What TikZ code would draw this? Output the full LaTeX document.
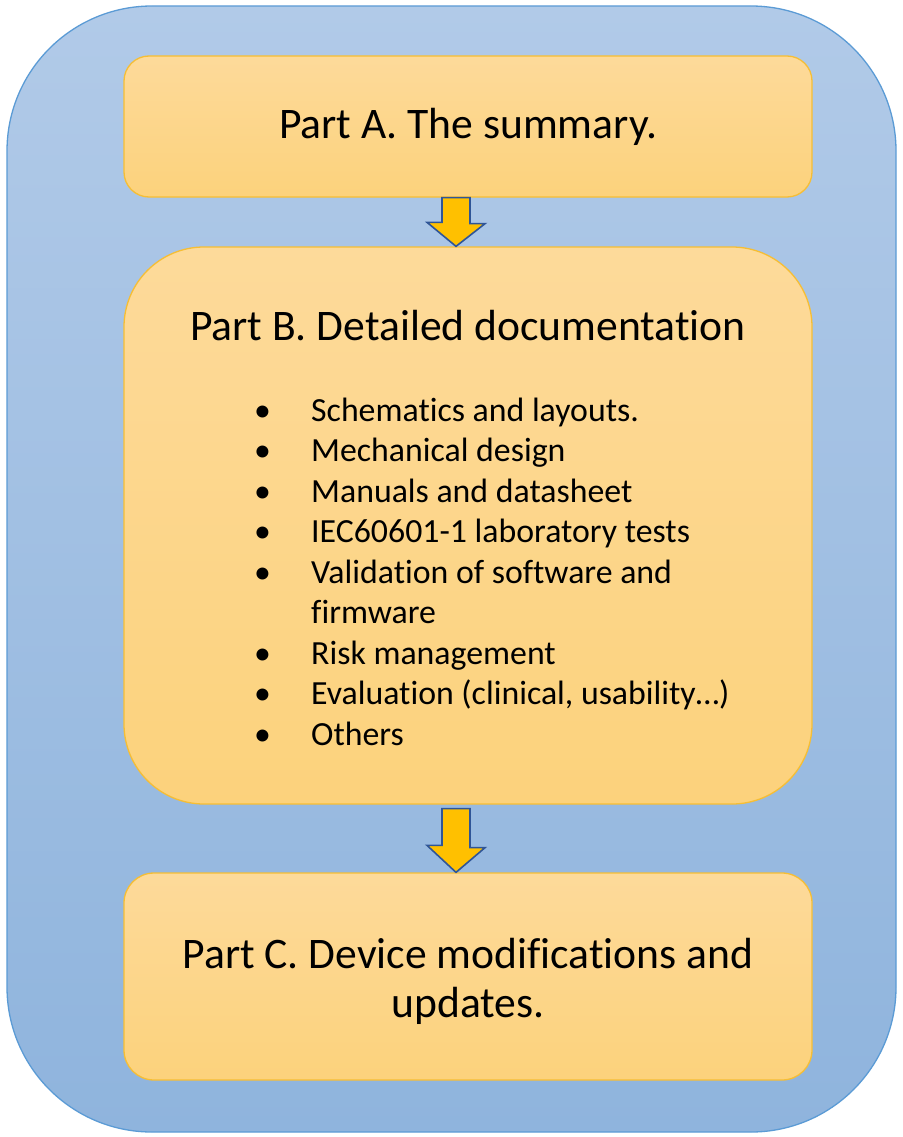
\documentclass[tikz,border=0pt]{standalone}
\usepackage{fontspec}
\setmainfont{Carlito}[Ligatures={NoCommon}]
\usetikzlibrary{calc}
\definecolor{outerTop}{HTML}{B1CAE8}
\definecolor{outerBot}{HTML}{8FB4DD}
\definecolor{outerLine}{HTML}{5B9BD5}
\definecolor{boxTop}{HTML}{FDDA9A}
\definecolor{boxBot}{HTML}{FCD27C}
\definecolor{boxLine}{HTML}{F6BE35}
\definecolor{arrFill}{HTML}{FFC000}
\definecolor{arrLine}{HTML}{2F5597}
\tikzset{
  partbox/.style={draw=boxLine, line width=1.3pt, top color=boxTop, bottom color=boxBot,
    minimum width=688pt, inner sep=0pt, align=center},
  downarrow/.style={draw=arrLine, fill=arrFill, line width=1.6pt, line join=miter},
  titletext/.style={font=\fontsize{43.6}{49}\selectfont, align=center},
}
\begin{document}
\begin{tikzpicture}[x=1pt,y=-1pt]
\useasboundingbox (0,0) rectangle (902,1137);
\shade[draw=outerLine, line width=1.3pt, top color=outerTop, bottom color=outerBot, rounded corners=145pt]
  (7,6) rectangle (896,1132);
\node[partbox, rounded corners=25pt, minimum height=141pt, titletext] (A) at (468,126.5) {Part A. The summary.};
\node[partbox, rounded corners=80pt, minimum height=557pt] (B) at (468,525.5) {};
\node[titletext, anchor=center] (Btitle) at (468,326) {Part B. Detailed documentation};
\node[anchor=west, inner sep=0pt, font=\fontsize{33.8}{40.5}\selectfont] (Blist) at (254,575) {%
\begin{tabular}{@{}p{57pt}@{}l@{}}
\textbullet & Schematics and layouts.\\
\textbullet & Mechanical design\\
\textbullet & Manuals and datasheet\\
\textbullet & IEC60601-1 laboratory tests\\
\textbullet & Validation of software and\\
 & firmware\\
\textbullet & Risk management\\
\textbullet & Evaluation (clinical, usability…)\\
\textbullet & Others
\end{tabular}};
\node[partbox, rounded corners=30pt, minimum height=207pt] (C) at (468,976.5) {};
\node[titletext, anchor=center] (Ctext) at (468,981) {Part C. Device modifications and\\updates.};
% arrows
\draw[downarrow] ($(A.south)+(-26,0)$) -- ++(28,0) -- ++(0,26) -- ++(15,0) -- ($(B.north)+(-12,0)$) -- ++(-29,-24) -- ++(15,0) -- cycle;
\draw[downarrow] ($(B.south)+(-26,4)$) -- ++(28,0) -- ++(0,39) -- ++(15,0) -- ($(C.north)+(-12,0)$) -- ++(-29,-27) -- ++(15,0) -- cycle;
\end{tikzpicture}
\end{document}
